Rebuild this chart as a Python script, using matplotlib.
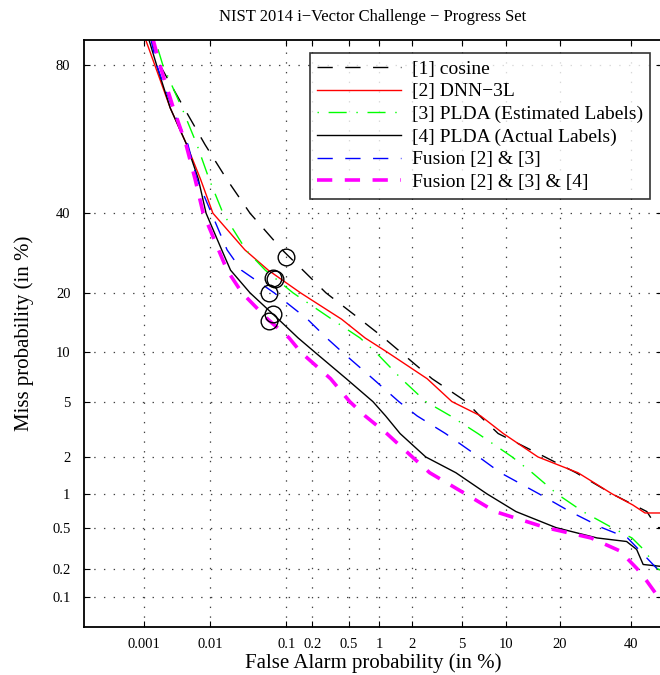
import math
import numpy as np
import matplotlib
matplotlib.use("Agg")
import matplotlib.pyplot as plt
from matplotlib.ticker import FixedLocator, FixedFormatter, NullLocator

plt.rcParams['font.family'] = ['Liberation Serif', 'DejaVu Serif']
plt.rcParams['lines.scale_dashes'] = False

# ---------------- data (percent) ----------------
title = "NIST 2014 i\u2212Vector Challenge \u2212 Progress Set"
xlabel = "False Alarm probability (in %)"
ylabel = "Miss probability (in %)"

x_ticks = [0.001, 0.01, 0.1, 0.2, 0.5, 1, 2, 5, 10, 20, 40]
x_ticklabels = ["0.001", "0.01", "0.1", "0.2", "0.5", "1", "2", "5", "10", "20", "40"]
y_ticks = [0.1, 0.2, 0.5, 1, 2, 5, 10, 20, 40, 80]
y_ticklabels = ["0.1", "0.2", "0.5", "1", "2", "5", "10", "20", "40", "80"]

series_names = ["[1] cosine", "[2] DNN\u22123L", "[3] PLDA (Estimated Labels)",
                "[4] PLDA (Actual Labels)", "Fusion [2] & [3]", "Fusion [2] & [3] & [4]"]

cosine_fa = [0.0013, 0.0018, 0.0042, 0.0085, 0.017, 0.035, 0.089, 0.157, 0.285, 0.65, 1.11,
             1.59, 2.93, 5.36, 6.7, 8.9, 16.8, 24.0, 34.1, 45.1, 48.5, 50]
cosine_miss = [85, 80, 70, 60, 50, 40, 30, 25, 20, 15, 12,
               10, 7, 5, 4, 3, 2, 1.5, 1, 0.7, 0.5, 0.5]

dnn_fa = [0.00106, 0.0015, 0.0026, 0.0046, 0.0073, 0.011, 0.030, 0.060, 0.147, 0.42, 0.73,
          1.2, 2.67, 4.2, 6.8, 9.6, 15.4, 24.5, 34.1, 40.6, 44.5, 50]
dnn_miss = [85, 80, 70, 60, 50, 40, 30, 25, 20, 15, 12,
            10, 7, 5, 4, 3, 2, 1.5, 1, 0.8, 0.68, 0.68]

pldaest_fa = [0.0015, 0.0020, 0.0039, 0.0065, 0.0097, 0.0152, 0.031, 0.055, 0.12, 0.33, 0.65,
              0.93, 1.6, 2.6, 4.1, 6.5, 10.9, 14.3, 19.4, 25.8, 34.1, 40.3, 44.5, 48.4, 50]
pldaest_miss = [85, 80, 70, 60, 50, 40, 30, 25, 20, 15, 12,
                10, 7, 5, 4, 3, 2, 1.5, 1, 0.7, 0.5, 0.4, 0.3, 0.2, 0.19]

pldaact_fa = [0.0012, 0.0016, 0.0026, 0.0046, 0.0068, 0.0088, 0.0146, 0.0193, 0.035, 0.080, 0.138,
              0.216, 0.47, 0.87, 1.15, 1.56, 2.6, 4.5, 7.5, 11.5, 19.2, 29.7, 38.6, 41.8, 43.9, 50]
pldaact_miss = [85, 80, 70, 60, 50, 40, 30, 25, 20, 15, 12,
                10, 7, 5, 4, 3, 2, 1.5, 1, 0.7, 0.5, 0.4, 0.37, 0.31, 0.22, 0.21]

fus23_fa = [0.0013, 0.0016, 0.0028, 0.0048, 0.0065, 0.0105, 0.0173, 0.027, 0.071, 0.177, 0.29,
            0.43, 0.87, 1.52, 2.2, 3.75, 6.6, 9.2, 15.6, 22.5, 31.1, 38.9, 42.9, 48.4, 49.5, 50]
fus23_miss = [85, 80, 70, 60, 50, 40, 30, 25, 20, 15, 12,
              10, 7, 5, 4, 3, 2, 1.5, 1, 0.7, 0.5, 0.4, 0.3, 0.2, 0.15, 0.14]

fus234_fa = [0.0014, 0.0018, 0.0029, 0.0045, 0.0061, 0.0080, 0.0132, 0.0173, 0.0275, 0.059, 0.108,
             0.149, 0.32, 0.51, 0.73, 1.18, 2.0, 2.8, 5.3, 8.5, 17.0, 28.0, 36.5, 41.9, 45.0, 48.0, 50]
fus234_miss = [85, 80, 70, 60, 50, 40, 30, 25, 20, 15, 12,
               10, 7, 5, 4, 3, 2, 1.5, 1, 0.7, 0.5, 0.4, 0.3, 0.2, 0.15, 0.11, 0.1]

# operating points (circles)
circle_fa = [0.10, 0.069, 0.072, 0.062, 0.068, 0.062]
circle_miss = [28.3, 23.2, 23.0, 19.9, 15.9, 14.7]

# ---------------- normal-deviate (probit) scale ----------------
_a = [-3.969683028665376e+01, 2.209460984245205e+02, -2.759285104469687e+02,
      1.383577518672690e+02, -3.066479806614716e+01, 2.506628277459239e+00]
_b = [-5.447609879822406e+01, 1.615858368580409e+02, -1.556989798598866e+02,
      6.680131188771972e+01, -1.328068155288572e+01]
_c = [-7.784894002430293e-03, -3.223964580411365e-01, -2.400758277161838e+00,
      -2.549732539343734e+00, 4.374664141464968e+00, 2.938163982698783e+00]
_d = [7.784695709041462e-03, 3.224671290700398e-01, 2.445134137142996e+00,
      3.754408661907416e+00]


def _ppf(p):
    p = np.clip(np.asarray(p, dtype=float), 1e-12, 1 - 1e-12)
    plow = 0.02425
    q_lo = np.sqrt(-2 * np.log(p))
    x_lo = (((((_c[0]*q_lo+_c[1])*q_lo+_c[2])*q_lo+_c[3])*q_lo+_c[4])*q_lo+_c[5]) / \
           ((((_d[0]*q_lo+_d[1])*q_lo+_d[2])*q_lo+_d[3])*q_lo+1)
    q_hi = np.sqrt(-2 * np.log(1 - p))
    x_hi = -(((((_c[0]*q_hi+_c[1])*q_hi+_c[2])*q_hi+_c[3])*q_hi+_c[4])*q_hi+_c[5]) / \
           ((((_d[0]*q_hi+_d[1])*q_hi+_d[2])*q_hi+_d[3])*q_hi+1)
    q = p - 0.5
    r = q * q
    x_mid = (((((_a[0]*r+_a[1])*r+_a[2])*r+_a[3])*r+_a[4])*r+_a[5])*q / \
            (((((_b[0]*r+_b[1])*r+_b[2])*r+_b[3])*r+_b[4])*r+1)
    return np.where(p < plow, x_lo, np.where(p > 1 - plow, x_hi, x_mid))


_erf = np.vectorize(math.erf, otypes=[float])


def fwd(v):
    return _ppf(np.asarray(v, dtype=float) / 100.0)


def inv(z):
    z = np.asarray(z, dtype=float)
    return 100.0 * 0.5 * (1.0 + _erf(z / math.sqrt(2.0)))


# ---------------- figure ----------------
fig = plt.figure(figsize=(6.6, 6.75), dpi=100)
ax = fig.add_axes([84.3 / 660, (675 - 626.5) / 675, 577.5 / 660, 586.2 / 675])
ax.set_xscale('function', functions=(fwd, inv))
ax.set_yscale('function', functions=(fwd, inv))
ax.set_xlim(0.0001, 50)
ax.set_ylim(0.0473, 84.7)

dash = (0, (11, 9))
ax.plot(cosine_fa, cosine_miss, color='k', lw=1.0, ls=dash, label=series_names[0])
ax.plot(dnn_fa, dnn_miss, color='#ff0000', lw=1.0, ls='-', label=series_names[1])
ax.plot(pldaest_fa, pldaest_miss, color='#00ff00', lw=1.0, ls=(0, (1, 7, 13, 7)),
        label=series_names[2])
ax.plot(pldaact_fa, pldaact_miss, color='k', lw=1.0, ls='-', label=series_names[3])
ax.plot(fus23_fa, fus23_miss, color='#0000ff', lw=1.0, ls=dash, label=series_names[4])
ax.plot(fus234_fa, fus234_miss, color='#ff00ff', lw=2.6, ls=dash, label=series_names[5])
ax.plot(circle_fa, circle_miss, ls='none', marker='o', ms=12, mfc='none', mec='k', mew=1.0)

ax.xaxis.set_major_locator(FixedLocator(x_ticks))
ax.xaxis.set_major_formatter(FixedFormatter(x_ticklabels))
ax.yaxis.set_major_locator(FixedLocator(y_ticks))
ax.yaxis.set_major_formatter(FixedFormatter(y_ticklabels))
ax.xaxis.set_minor_locator(NullLocator())
ax.yaxis.set_minor_locator(NullLocator())

ax.grid(True, which='major', color='0.25', ls=(0, (1, 6)), lw=0.9)
ax.tick_params(direction='in', top=True, right=True, length=4.5, width=0.8,
               labelsize=10.5, colors='k')
ax.tick_params(axis='x', pad=8)
ax.tick_params(axis='y', pad=10)
for s in ax.spines.values():
    s.set_linewidth(1.3)

ax.set_title(title, fontsize=12, pad=14)
ax.set_xlabel(xlabel, fontsize=15, labelpad=2)
ax.set_ylabel(ylabel, fontsize=15, labelpad=13)

leg = ax.legend(loc='upper right', bbox_to_anchor=(0.9796, 0.9789), borderaxespad=0,
                fontsize=14.0, frameon=True, fancybox=False, edgecolor='k',
                handlelength=4.3, handletextpad=0.55, labelspacing=0.26, borderpad=0.38)
leg.get_frame().set_linewidth(1.2)

fig.savefig("out.png", dpi=100)
